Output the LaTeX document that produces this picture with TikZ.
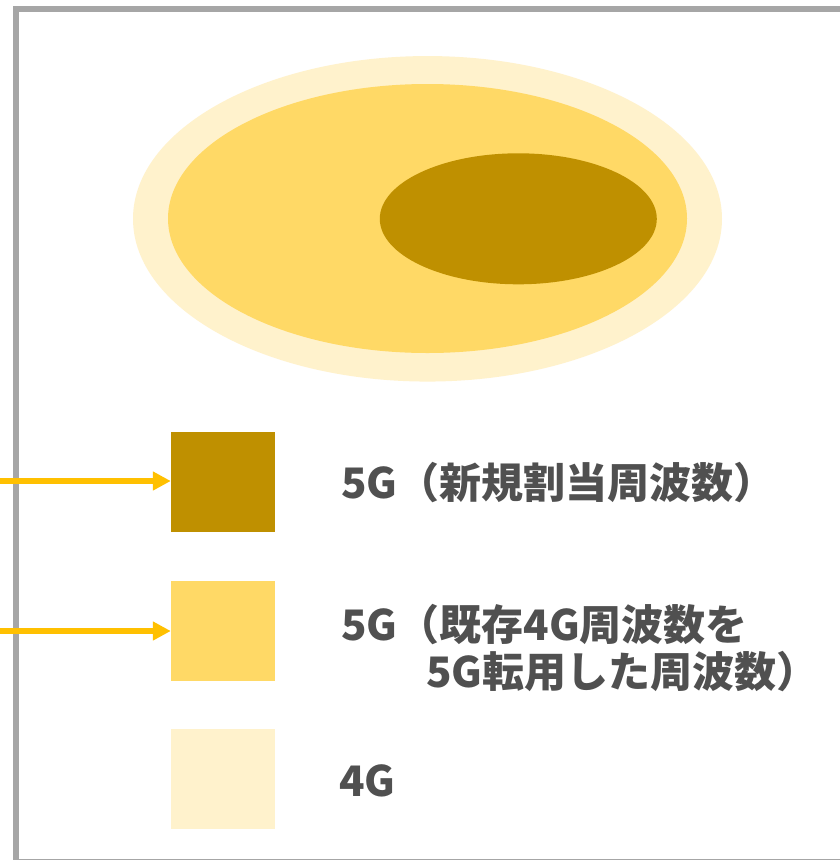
\documentclass[tikz,border=0pt]{standalone}
\usepackage{fontspec}
\newfontfamily\jp{Noto Sans CJK JP}
\usetikzlibrary{arrows.meta,shapes.geometric}
\definecolor{c4g}{HTML}{FFF2CC}
\definecolor{c5gold}{HTML}{FFD966}
\definecolor{c5gnew}{HTML}{BF9000}
\definecolor{frame}{HTML}{A6A6A6}
\definecolor{txt}{HTML}{505050}
\definecolor{arr}{HTML}{FFC000}
\begin{document}
\begin{tikzpicture}[x=1pt,y=-1pt,
  blob/.style={ellipse,draw=none,inner sep=0pt},
  swatch/.style={rectangle,draw=none,inner sep=0pt,minimum width=104pt,minimum height=100pt},
  legend/.style={anchor=base west,inner sep=0pt,text=txt,font=\jp\bfseries\fontsize{42}{48}\selectfont},
  pointer/.style={draw=arr,line width=6pt,-{Triangle[length=18pt,width=18pt]}}]
\useasboundingbox (0,0) rectangle (839,860);
\fill[white] (0,0) rectangle (839,860);
\draw[frame,line width=6pt] (15.7,9) rectangle (860,862);
% ellipses
\node[blob,fill=c4g,minimum width=589pt,minimum height=325.5pt] (e4g) at (427.5,218.8) {};
\node[blob,fill=c5gold,minimum width=519pt,minimum height=269pt] (e5gold) at (427.5,218.5) {};
\node[blob,fill=c5gnew,minimum width=277pt,minimum height=131pt] (e5gnew) at (518.3,218.8) {};
% legend swatches
\node[swatch,fill=c5gnew] (s1) at (223,482) {};
\node[swatch,fill=c5gold] (s2) at (223,630.5) {};
\node[swatch,fill=c4g] (s3) at (223,778.5) {};
% legend texts
\node[legend] (t1) at (341,498) {5G（新規割当周波数）};
\node[legend] (t2a) at (341,640) {5G（既存4G周波数を};
\node[legend] (t2b) at (426,687) {5G転用した周波数）};
\node[legend] (t3) at (339,796) {4G};
% arrows
\coordinate (a1) at (-10,481);
\coordinate (a2) at (-10,631);
\draw[pointer] (a1) -- (s1.west |- a1);
\draw[pointer] (a2) -- (s2.west |- a2);
\end{tikzpicture}
\end{document}
